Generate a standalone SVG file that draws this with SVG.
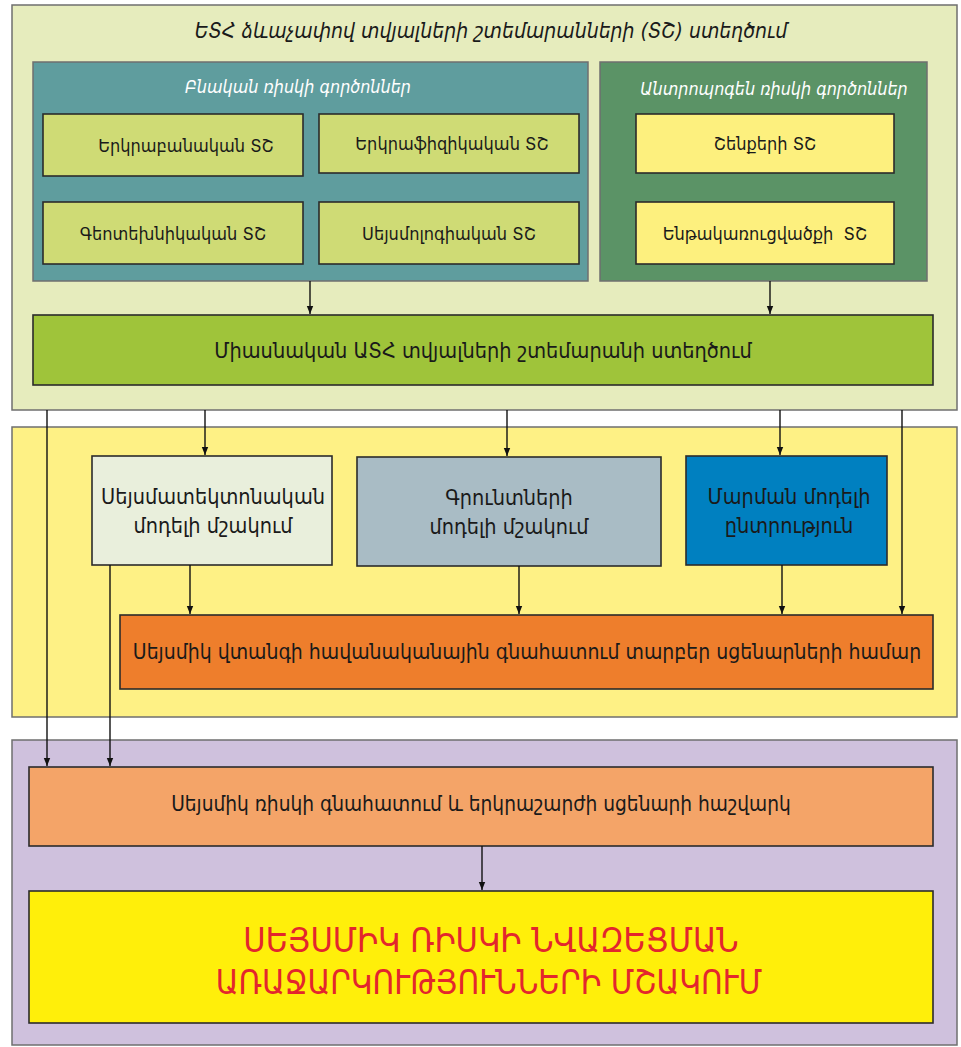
<svg xmlns="http://www.w3.org/2000/svg" width="961" height="1047" viewBox="0 0 961 1047">
<defs>
<marker id="ah" viewBox="0 0 10 10" refX="10" refY="5" markerWidth="8" markerHeight="12" markerUnits="userSpaceOnUse" orient="auto"><path d="M0,1 L10,5 L0,9 Z" fill="#111"/></marker>
<style>
.t{font-family:"DejaVu Sans Condensed","DejaVu Sans",sans-serif;fill:#1a1a1a;text-anchor:middle;dominant-baseline:central}
.it{font-style:italic;fill:#fff}
.red{fill:#e3262d}
.panel{stroke:#6f6f6f;stroke-width:1.5}
.box{stroke:#2b2b2b;stroke-width:1.6}
.c{stroke:#111;stroke-width:1.4;fill:none}
</style>
</defs>
<rect width="961" height="1047" fill="#fff"/>
<g id="panel-top"><rect class="panel" x="12" y="5" width="945" height="405" fill="#e6ecbd"/>
<text class="t" x="491" y="31" font-size="21" font-style="italic">ԵՏՀ ձևաչափով տվյալների շտեմարանների (ՏՇ) ստեղծում</text></g>
<g id="panel-natural"><rect class="panel" x="33" y="62" width="555" height="219" fill="#5f9d9e"/>
<text class="t it" x="298" y="86" font-size="17.8">Բնական ռիսկի գործոններ</text></g>
<g id="panel-anthro"><rect class="panel" x="600" y="62" width="327" height="219" fill="#5b9366"/>
<text class="t it" x="774" y="88" font-size="17.8">Անտրոպոգեն ռիսկի գործոններ</text></g>
<g id="n1"><rect class="box" x="43" y="114" width="260" height="62" fill="#cfdb75"/><text class="t" x="186" y="145" font-size="18">Երկրաբանական ՏՇ</text></g>
<g id="n2"><rect class="box" x="319" y="114" width="260" height="59" fill="#cfdb75"/><text class="t" x="452" y="143" font-size="18">Երկրաֆիզիկական ՏՇ</text></g>
<g id="n3"><rect class="box" x="43" y="202" width="260" height="62" fill="#cfdb75"/><text class="t" x="173" y="233" font-size="18">Գեոտեխնիկական ՏՇ</text></g>
<g id="n4"><rect class="box" x="319" y="202" width="260" height="62" fill="#cfdb75"/><text class="t" x="449" y="233" font-size="18">Սեյսմոլոգիական ՏՇ</text></g>
<g id="n5"><rect class="box" x="636" y="114" width="258" height="59" fill="#fdf07e"/><text class="t" x="765" y="143" font-size="18">Շենքերի ՏՇ</text></g>
<g id="n6"><rect class="box" x="636" y="202" width="258" height="62" fill="#fdf07e"/><text class="t" x="765" y="233" font-size="18" xml:space="preserve">Ենթակառուցվածքի  ՏՇ</text></g>
<g id="n7"><rect class="box" x="33" y="315" width="900" height="70" fill="#9fc43a"/><text class="t" x="483" y="350" font-size="21.5">Միասնական ԱՏՀ տվյալների շտեմարանի ստեղծում</text></g>
<g id="panel-mid"><rect class="panel" x="12" y="427" width="945" height="290" fill="#fef185"/></g>
<g id="n8"><rect class="box" x="92" y="456" width="240" height="109" fill="#e9efdc" stroke="#777"/><text class="t" x="213" y="496" font-size="21.5">Սեյսմատեկտոնական</text><text class="t" x="213" y="525" font-size="21.5">մոդելի մշակում</text></g>
<g id="n9"><rect class="box" x="357" y="457" width="304" height="109" fill="#a9bcc5" stroke="#777"/><text class="t" x="509" y="497" font-size="21.5">Գրունտների</text><text class="t" x="509" y="526" font-size="21.5">մոդելի մշակում</text></g>
<g id="n10"><rect class="box" x="686" y="456" width="201" height="109" fill="#0080c0" stroke="#555"/><text class="t" x="789" y="496" font-size="21.5">Մարման մոդելի</text><text class="t" x="789" y="525" font-size="21.5">ընտրություն</text></g>
<g id="n11"><rect class="box" x="120" y="615" width="813" height="74" fill="#ee7e2c" stroke="#555"/><text class="t" x="527" y="652" font-size="21">Սեյսմիկ վտանգի հավանականային գնահատում տարբեր սցենարների համար</text></g>
<g id="panel-bot"><rect class="panel" x="12" y="740" width="945" height="305" fill="#cfc1dd"/></g>
<g id="n12"><rect class="box" x="29" y="767" width="904" height="79" fill="#f4a468" stroke="#777"/><text class="t" x="481" y="804" font-size="20.7">Սեյսմիկ ռիսկի գնահատում և երկրաշարժի սցենարի հաշվարկ</text></g>
<g id="n13"><rect class="box" x="29" y="891" width="904" height="132" fill="#ffef0a" stroke="#777"/><text class="t red" x="491" y="940" font-size="34">ՍԵՅՍՄԻԿ ՌԻՍԿԻ ՆՎԱԶԵՑՄԱՆ</text><text class="t red" x="489" y="982" font-size="33">ԱՌԱՋԱՐԿՈՒԹՅՈՒՆՆԵՐԻ ՄՇԱԿՈՒՄ</text></g>
<g id="connectors">
<line class="c" x1="310" y1="281" x2="310" y2="314" marker-end="url(#ah)"/>
<line class="c" x1="770" y1="281" x2="770" y2="314" marker-end="url(#ah)"/>
<line class="c" x1="47" y1="410" x2="47" y2="766" marker-end="url(#ah)"/>
<line class="c" x1="205" y1="410" x2="205" y2="455" marker-end="url(#ah)"/>
<line class="c" x1="507" y1="410" x2="507" y2="456" marker-end="url(#ah)"/>
<line class="c" x1="780" y1="410" x2="780" y2="455" marker-end="url(#ah)"/>
<line class="c" x1="902" y1="410" x2="902" y2="614" marker-end="url(#ah)"/>
<line class="c" x1="190" y1="565" x2="190" y2="614" marker-end="url(#ah)"/>
<line class="c" x1="519" y1="566" x2="519" y2="614" marker-end="url(#ah)"/>
<line class="c" x1="782" y1="565" x2="782" y2="614" marker-end="url(#ah)"/>
<line class="c" x1="110" y1="565" x2="110" y2="766" marker-end="url(#ah)"/>
<line class="c" x1="482" y1="846" x2="482" y2="890" marker-end="url(#ah)"/>
</g>
</svg>
